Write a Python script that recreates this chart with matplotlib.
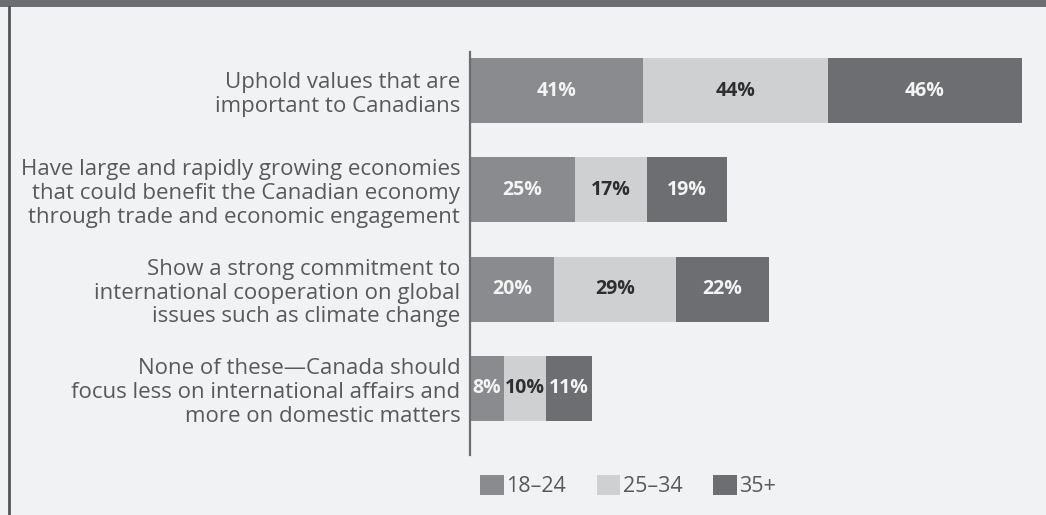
import matplotlib
matplotlib.use("Agg")
from matplotlib import pyplot as plt
from matplotlib.patches import Patch, Rectangle
from matplotlib.lines import Line2D
import numpy as np

plt.rcParams['font.family'] = ['Open Sans', 'DejaVu Sans']

# data
categories = [
    "Uphold values that are\nimportant to Canadians",
    "Have large and rapidly growing economies\nthat could benefit the Canadian economy\nthrough trade and economic engagement",
    "Show a strong commitment to\ninternational cooperation on global\nissues such as climate change",
    "None of these\u2014Canada should\nfocus less on international affairs and\nmore on domestic matters",
]
groups = ["18\u201324", "25\u201334", "35+"]
age_18_24 = [41, 25, 20, 8]
age_25_34 = [44, 17, 29, 10]
age_35_up = [46, 19, 22, 11]

series = [age_18_24, age_25_34, age_35_up]
colors = ["#8a8b8e", "#cfd0d2", "#6d6e71"]
txt_colors = ["#f4f4f4", "#2e2e30", "#f4f4f4"]
bg = "#f1f2f4"
label_col = "#58595b"

W, H = 1046, 515
fig = plt.figure(figsize=(W / 100, H / 100), dpi=100, facecolor=bg)

# plot area in pixels: x from 470 to right edge, y from 52 to 455
ax = fig.add_axes([470 / W, (H - 455) / H, (W - 470) / W, (455 - 52) / H])
ax.set_facecolor(bg)

y = np.arange(len(categories))
left = np.zeros(len(categories))
for vals, c, tc in zip(series, colors, txt_colors):
    vals = np.array(vals)
    ax.barh(y, vals, left=left, height=0.655, color=c, edgecolor="none")
    for yi, l, v in zip(y, left, vals):
        ax.text(l + v / 2, yi, "%d%%" % v, ha="center", va="center",
                color=tc, fontsize=14, fontweight="bold")
    left = left + vals

ax.set_xlim(0, (W - 470) / 4.21)
ax.set_ylim(3.67, -0.388)
ax.set_xticks([])
ax.set_yticks(y)
ax.set_yticklabels(categories, fontsize=16, color=label_col, linespacing=1.17)
ax.tick_params(axis="y", length=0, pad=7)
for s in ["top", "right", "bottom"]:
    ax.spines[s].set_visible(False)
ax.spines["left"].set_color("#6d6e71")
ax.spines["left"].set_linewidth(1.6)

# legend
handles = [Patch(facecolor=c, edgecolor="none") for c in colors]
fig.legend(handles, groups, loc="center", bbox_to_anchor=(628 / W, 1 - 486 / H),
           ncol=3, frameon=False, fontsize=15.5, labelcolor=label_col,
           handlelength=1.1, handleheight=1.1, handletextpad=0.1,
           columnspacing=1.45)

# frame decorations
fig.patches.append(Rectangle((0, 1 - 7 / H), 1, 7 / H, transform=fig.transFigure,
                             facecolor="#6d6e71", edgecolor="none"))
fig.lines.append(Line2D([9 / W, 9 / W], [0, 1 - 7 / H], transform=fig.transFigure,
                        color="#555558", linewidth=2))

plt.savefig("out.png", dpi=100, facecolor=bg)
